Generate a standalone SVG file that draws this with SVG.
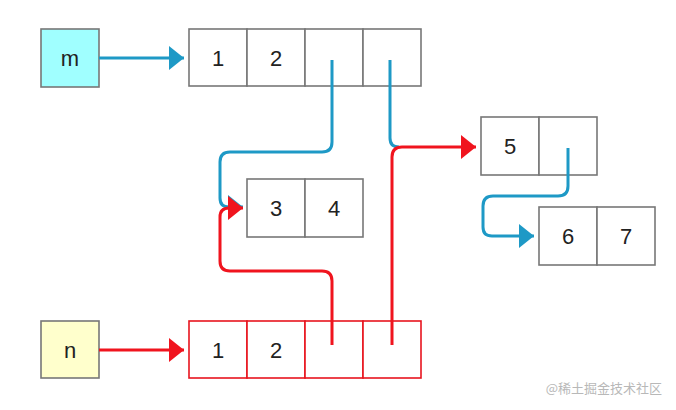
<svg xmlns="http://www.w3.org/2000/svg" width="676" height="410" viewBox="0 0 676 410">
<style>
.box{fill:#fff;stroke:#777;stroke-width:1.6}
.rbox{fill:#fff;stroke:#e8141f;stroke-width:1.6}
.t{font-family:"Liberation Sans",Arial,sans-serif;font-size:22px;fill:#222;text-anchor:middle;dominant-baseline:central}
.b{fill:none;stroke:#1e99c6;stroke-width:3;stroke-linejoin:round}
.r{fill:none;stroke:#f0141e;stroke-width:3;stroke-linejoin:round}
</style>
<defs>
<marker id="ab" markerUnits="userSpaceOnUse" markerWidth="16" markerHeight="26" refX="15" refY="13" orient="auto"><path d="M0,1 L15,13 L0,25 Z" fill="#1e99c6"/></marker>
<marker id="ar" markerUnits="userSpaceOnUse" markerWidth="16" markerHeight="26" refX="15" refY="13" orient="auto"><path d="M0,1 L15,13 L0,25 Z" fill="#f0141e"/></marker>
</defs>
<rect width="676" height="410" fill="#fff"/>
<g id="m">
<rect x="41" y="29" width="58" height="58" fill="#a0ffff" stroke="#777" stroke-width="1.6"/>
<text class="t" x="70" y="58">m</text>
</g>
<g id="arrM">
<rect class="box" x="189" y="29" width="58" height="57"/>
<rect class="box" x="247" y="29" width="58" height="57"/>
<rect class="box" x="305" y="29" width="58" height="57"/>
<rect class="box" x="363" y="29" width="58" height="57"/>
<text class="t" x="218" y="58">1</text>
<text class="t" x="276" y="58">2</text>
</g>
<g id="n34">
<rect class="box" x="247" y="179" width="58" height="58"/>
<rect class="box" x="305" y="179" width="58" height="58"/>
<text class="t" x="276" y="208">3</text>
<text class="t" x="334" y="208">4</text>
</g>
<g id="n5">
<rect class="box" x="481" y="117" width="58" height="58"/>
<rect class="box" x="539" y="117" width="58" height="58"/>
<text class="t" x="510" y="146">5</text>
</g>
<g id="n67">
<rect class="box" x="539" y="207" width="58" height="58"/>
<rect class="box" x="597" y="207" width="58" height="58"/>
<text class="t" x="568" y="236">6</text>
<text class="t" x="626" y="236">7</text>
</g>
<g id="n">
<rect x="41" y="321" width="58" height="57" fill="#ffffcc" stroke="#777" stroke-width="1.6"/>
<text class="t" x="70" y="350">n</text>
</g>
<g id="arrN">
<rect class="rbox" x="189" y="321" width="58" height="57"/>
<rect class="rbox" x="247" y="321" width="58" height="57"/>
<rect class="rbox" x="305" y="321" width="58" height="57"/>
<rect class="rbox" x="363" y="321" width="58" height="57"/>
<text class="t" x="218" y="350">1</text>
<text class="t" x="276" y="350">2</text>
</g>
<g id="connectors">
<path class="b" d="M99,58 H184" marker-end="url(#ab)"/>
<path class="b" d="M332,60 V142 Q332,152 322,152 H230 Q220,152 220,162 V198 Q220,207 229,207 H243" marker-end="url(#ab)"/>
<path class="b" d="M390,60 V138 Q390,147 399,147"/>
<path class="b" d="M568,148 V186 Q568,196 558,196 H493 Q483,196 483,206 V227 Q483,236 492,236 H534" marker-end="url(#ab)"/>
<path class="r" d="M99,350 H184" marker-end="url(#ar)"/>
<path class="r" d="M332,345 V281 Q332,271 322,271 H230 Q220,271 220,261 V217 Q220,208 229,208 H243" marker-end="url(#ar)"/>
<path class="r" d="M392,345 V157 Q392,147 402,147 H476" marker-end="url(#ar)"/>
</g>
<text x="662" y="393" font-family="'Noto Sans CJK SC',sans-serif" font-size="13" fill="#b8b8b8" text-anchor="end">@稀土掘金技术社区</text>
</svg>
